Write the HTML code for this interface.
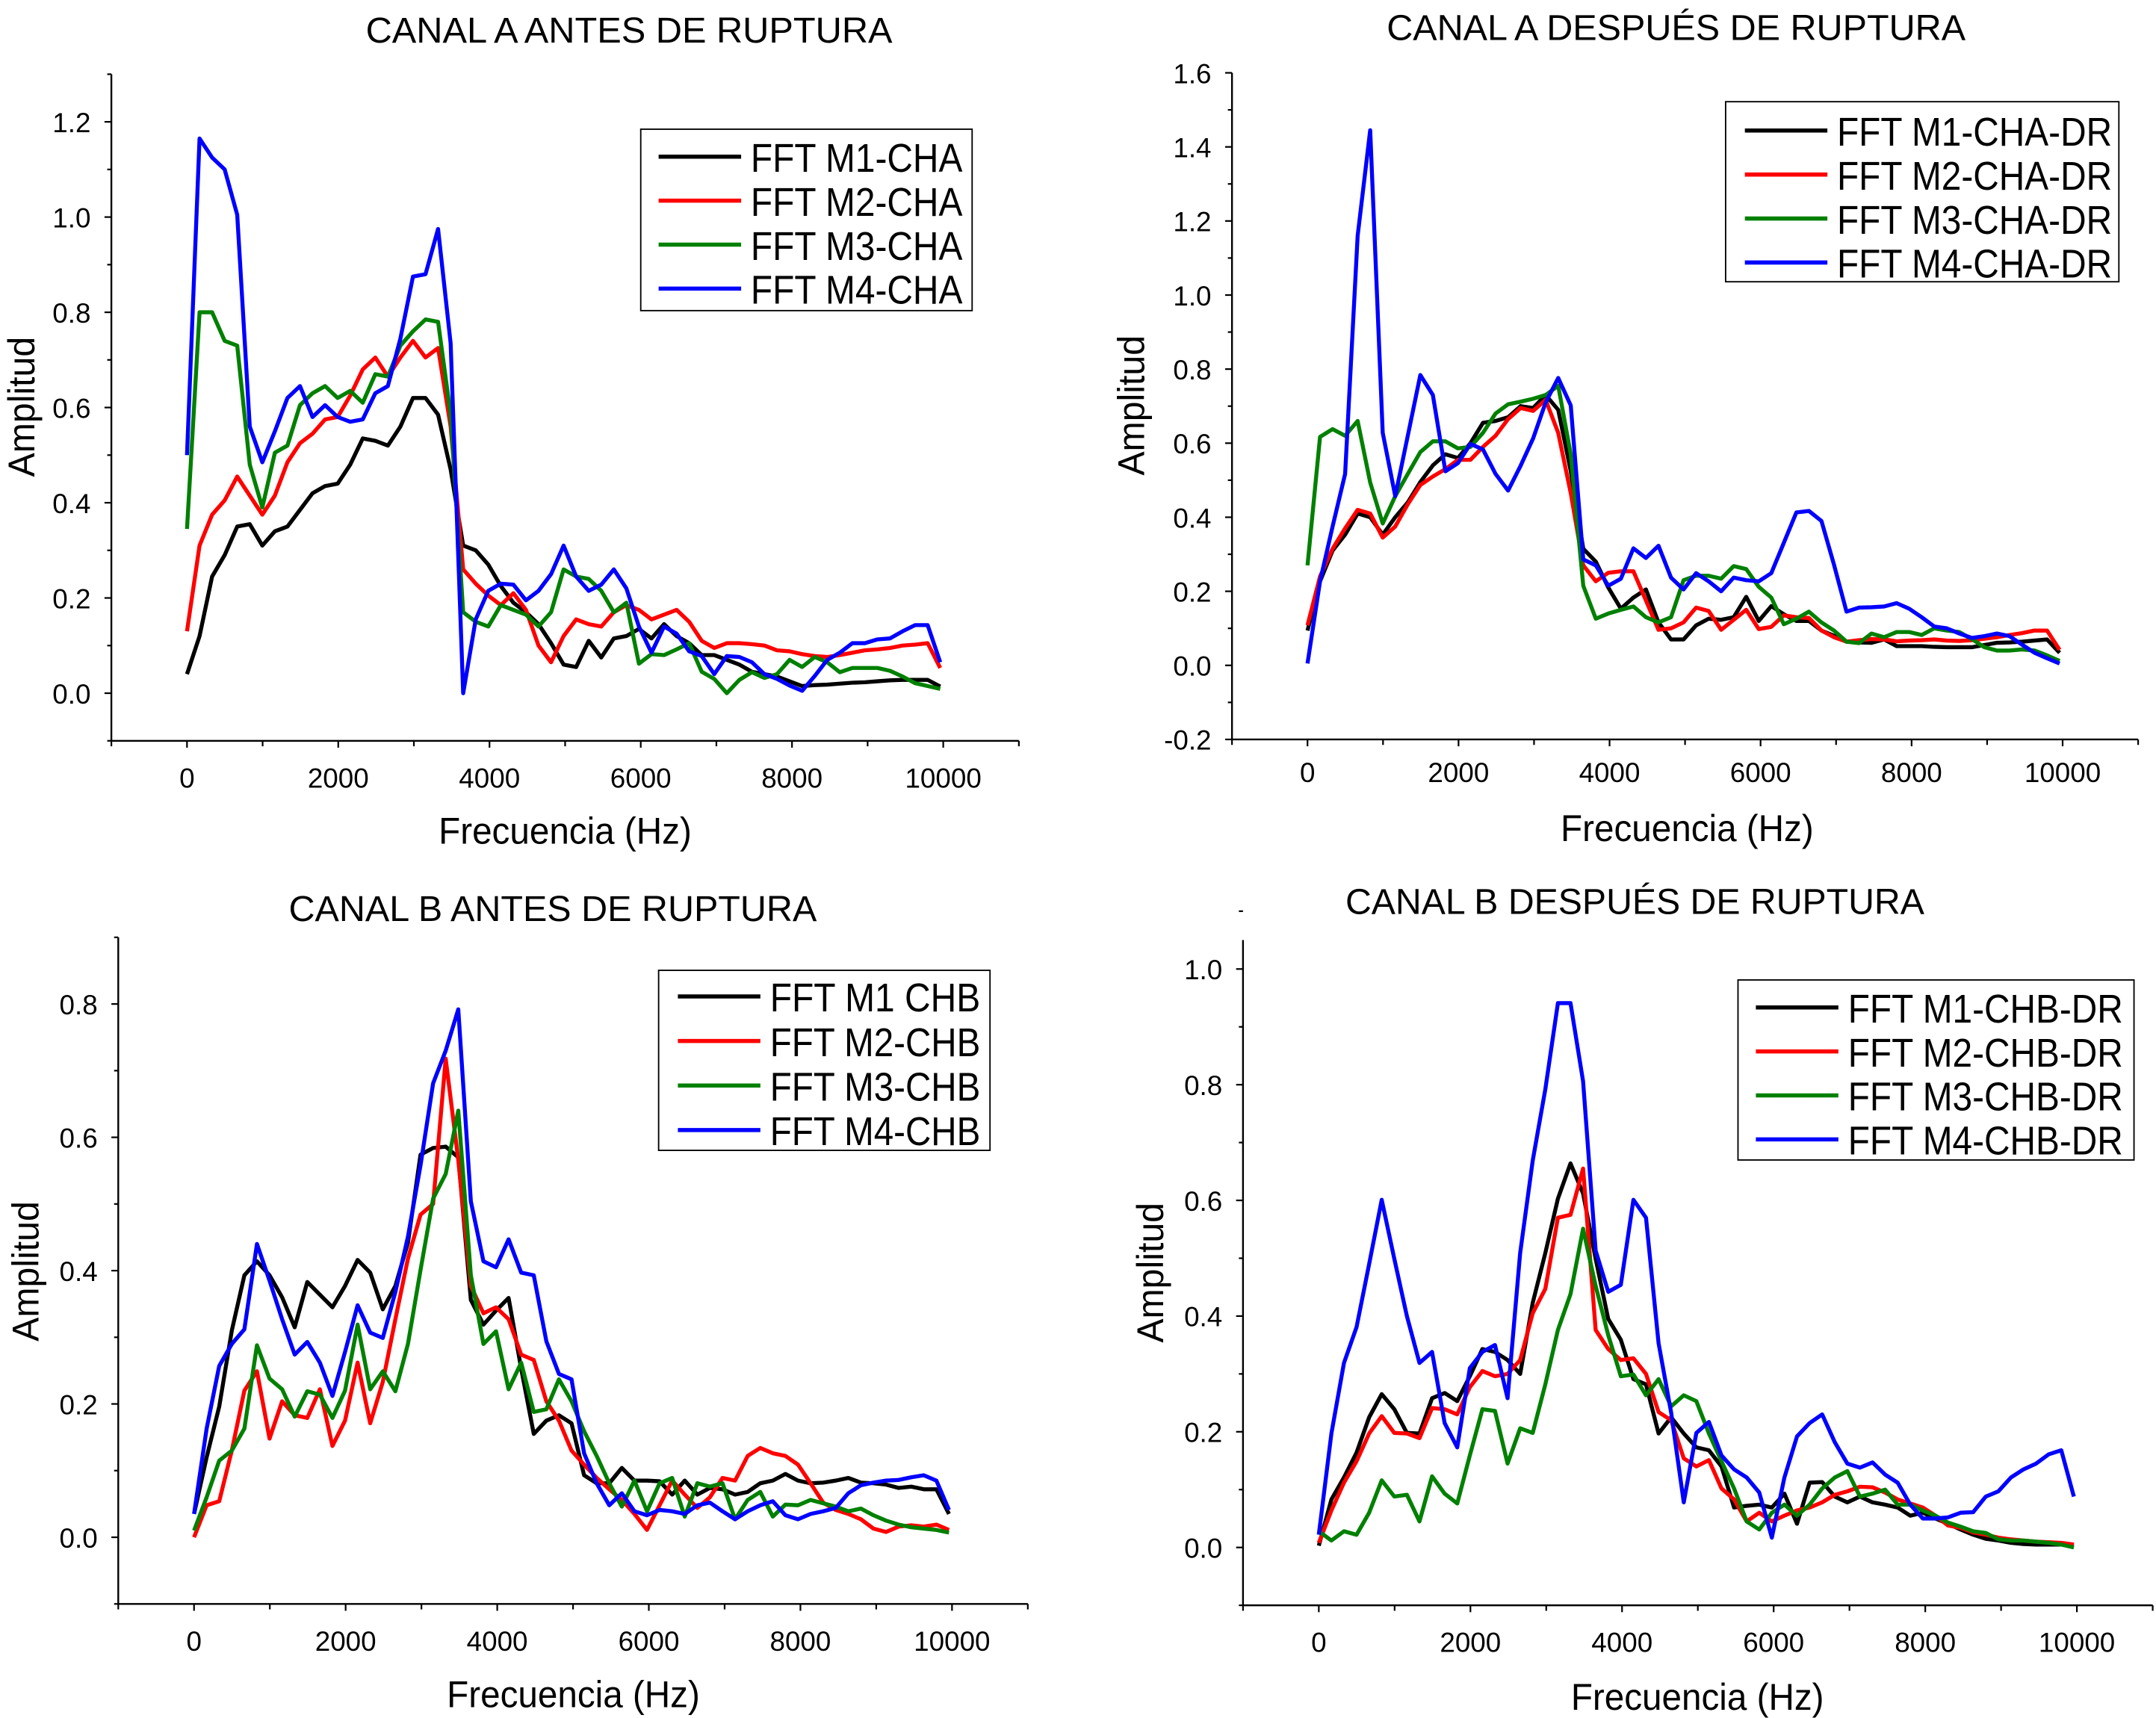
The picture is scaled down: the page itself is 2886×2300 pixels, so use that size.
<!DOCTYPE html>
<html><head><meta charset="utf-8"><style>
html,body{margin:0;padding:0;background:#fff;}
svg{display:block;}
text{font-family:"Liberation Sans",Arial,sans-serif;fill:#000;}
</style></head><body>
<svg id="fig" xmlns="http://www.w3.org/2000/svg" width="2886" height="2300" viewBox="0 0 1568 1250" preserveAspectRatio="none"></svg>
<script>
// ---------- data ----------
const freqs = [0,166,332,498,664,830,996,1162,1328,1494,1660,1826,1992,2158,2324,2490,2656,2822,2988,3154,3320,3486,3652,3818,3984,4150,4316,4482,4648,4814,4980,5146,5312,5478,5644,5810,5976,6142,6308,6474,6640,6806,6972,7138,7304,7470,7636,7802,7968,8134,8300,8466,8632,8798,8964,9130,9296,9462,9628,9794,9960];

const chaM1 = [0.04,0.12,0.245,0.29,0.35,0.355,0.31,0.34,0.35,0.385,0.42,0.435,0.44,0.48,0.535,0.53,0.52,0.56,0.62,0.62,0.585,0.47,0.31,0.30,0.27,0.225,0.19,0.17,0.145,0.105,0.06,0.055,0.11,0.075,0.115,0.12,0.135,0.115,0.145,0.12,0.105,0.08,0.08,0.07,0.06,0.045,0.04,0.035,0.025,0.015,0.017,0.018,0.02,0.022,0.023,0.025,0.027,0.028,0.028,0.028,0.014];
const chaM2 = [0.13,0.31,0.375,0.405,0.455,0.415,0.375,0.415,0.485,0.525,0.545,0.575,0.58,0.625,0.68,0.705,0.665,0.705,0.74,0.705,0.725,0.56,0.26,0.23,0.205,0.185,0.21,0.175,0.10,0.065,0.12,0.155,0.145,0.14,0.17,0.185,0.175,0.155,0.165,0.175,0.15,0.11,0.095,0.105,0.105,0.103,0.10,0.09,0.088,0.082,0.078,0.076,0.08,0.085,0.09,0.092,0.095,0.10,0.102,0.105,0.053];
const chaM3 = [0.345,0.80,0.80,0.74,0.73,0.48,0.39,0.505,0.52,0.605,0.63,0.645,0.62,0.635,0.61,0.67,0.665,0.73,0.76,0.785,0.78,0.585,0.17,0.15,0.14,0.185,0.175,0.165,0.14,0.17,0.26,0.245,0.24,0.215,0.17,0.19,0.062,0.082,0.08,0.092,0.105,0.045,0.03,0.0,0.028,0.044,0.032,0.04,0.07,0.055,0.076,0.065,0.044,0.053,0.053,0.053,0.047,0.035,0.021,0.015,0.009];
const chaM4 = [0.50,1.165,1.125,1.10,1.005,0.56,0.485,0.55,0.62,0.645,0.58,0.605,0.58,0.57,0.575,0.63,0.645,0.745,0.875,0.88,0.975,0.735,0.0,0.155,0.215,0.23,0.228,0.195,0.215,0.25,0.31,0.245,0.215,0.228,0.26,0.22,0.14,0.085,0.14,0.125,0.088,0.078,0.04,0.078,0.076,0.065,0.04,0.03,0.016,0.005,0.036,0.07,0.085,0.105,0.105,0.113,0.115,0.13,0.143,0.143,0.065];

const chadrM1 = [0.094,0.227,0.31,0.353,0.41,0.40,0.353,0.40,0.44,0.495,0.54,0.57,0.56,0.60,0.655,0.66,0.67,0.70,0.695,0.73,0.69,0.525,0.315,0.28,0.21,0.153,0.183,0.205,0.116,0.07,0.07,0.108,0.126,0.123,0.13,0.185,0.12,0.16,0.138,0.12,0.12,0.094,0.08,0.064,0.062,0.061,0.07,0.052,0.052,0.052,0.05,0.049,0.049,0.049,0.055,0.061,0.062,0.064,0.067,0.07,0.034];
const chadrM2 = [0.108,0.24,0.315,0.37,0.42,0.41,0.345,0.375,0.435,0.487,0.51,0.53,0.555,0.555,0.59,0.62,0.665,0.695,0.687,0.717,0.628,0.465,0.27,0.227,0.25,0.254,0.254,0.175,0.096,0.10,0.116,0.156,0.147,0.096,0.123,0.15,0.098,0.104,0.135,0.13,0.128,0.094,0.076,0.064,0.068,0.071,0.07,0.065,0.067,0.068,0.07,0.067,0.066,0.068,0.072,0.076,0.082,0.087,0.094,0.094,0.042];
const chadrM3 = [0.27,0.617,0.638,0.62,0.66,0.494,0.383,0.457,0.517,0.576,0.605,0.605,0.586,0.59,0.628,0.68,0.705,0.712,0.72,0.73,0.755,0.57,0.215,0.126,0.14,0.15,0.159,0.13,0.116,0.13,0.23,0.242,0.242,0.234,0.268,0.26,0.212,0.183,0.111,0.126,0.145,0.116,0.094,0.064,0.06,0.086,0.076,0.09,0.09,0.082,0.1,0.094,0.09,0.071,0.049,0.04,0.04,0.043,0.04,0.027,0.012];
const chadrM4 = [0.005,0.227,0.375,0.517,1.16,1.445,0.628,0.457,0.62,0.784,0.73,0.524,0.546,0.598,0.583,0.517,0.472,0.539,0.613,0.71,0.776,0.702,0.286,0.27,0.215,0.234,0.316,0.29,0.323,0.237,0.205,0.249,0.227,0.2,0.237,0.23,0.227,0.249,0.331,0.413,0.417,0.39,0.272,0.145,0.156,0.157,0.159,0.168,0.153,0.13,0.105,0.1,0.086,0.074,0.079,0.086,0.079,0.056,0.034,0.019,0.005];

const chbM1 = [0.035,0.12,0.196,0.31,0.393,0.414,0.393,0.36,0.315,0.383,0.364,0.345,0.377,0.416,0.397,0.342,0.377,0.442,0.574,0.584,0.586,0.57,0.356,0.319,0.34,0.359,0.253,0.155,0.175,0.183,0.171,0.093,0.081,0.081,0.104,0.085,0.085,0.084,0.064,0.085,0.064,0.074,0.072,0.064,0.068,0.081,0.085,0.095,0.085,0.081,0.082,0.085,0.089,0.082,0.081,0.079,0.074,0.076,0.072,0.072,0.035];
const chbM2 = [0,0.048,0.054,0.13,0.22,0.249,0.148,0.204,0.183,0.179,0.222,0.137,0.175,0.262,0.171,0.233,0.327,0.418,0.484,0.5,0.718,0.566,0.377,0.336,0.345,0.327,0.274,0.266,0.204,0.175,0.13,0.109,0.089,0.072,0.056,0.035,0.011,0.048,0.085,0.064,0.044,0.06,0.089,0.085,0.122,0.134,0.126,0.122,0.109,0.081,0.052,0.041,0.035,0.027,0.013,0.008,0.016,0.018,0.016,0.019,0.011];
const chbM3 = [0.01,0.06,0.115,0.13,0.163,0.288,0.238,0.222,0.181,0.219,0.214,0.179,0.22,0.319,0.222,0.249,0.219,0.29,0.401,0.508,0.545,0.64,0.393,0.29,0.309,0.222,0.262,0.188,0.192,0.237,0.204,0.159,0.122,0.081,0.046,0.085,0.039,0.081,0.089,0.031,0.081,0.076,0.081,0.027,0.056,0.068,0.031,0.049,0.048,0.056,0.051,0.046,0.039,0.043,0.033,0.025,0.019,0.015,0.013,0.011,0.007];
const chbM4 = [0.035,0.163,0.257,0.29,0.312,0.44,0.385,0.327,0.274,0.293,0.262,0.212,0.278,0.348,0.307,0.299,0.368,0.451,0.558,0.681,0.73,0.792,0.504,0.414,0.405,0.447,0.397,0.393,0.294,0.245,0.237,0.126,0.081,0.048,0.066,0.039,0.033,0.041,0.039,0.035,0.048,0.052,0.039,0.027,0.039,0.048,0.054,0.033,0.027,0.035,0.039,0.044,0.066,0.078,0.082,0.085,0.086,0.09,0.093,0.085,0.041];

const chbdrM1 = [0.003,0.083,0.121,0.164,0.225,0.265,0.239,0.198,0.197,0.258,0.267,0.253,0.296,0.343,0.338,0.324,0.3,0.423,0.509,0.603,0.664,0.612,0.499,0.395,0.359,0.291,0.282,0.197,0.225,0.197,0.173,0.168,0.14,0.069,0.072,0.074,0.069,0.093,0.041,0.112,0.113,0.088,0.078,0.088,0.078,0.074,0.069,0.055,0.06,0.05,0.041,0.031,0.022,0.015,0.012,0.008,0.006,0.005,0.005,0.005,0.003];
const chbdrM2 = [0.008,0.064,0.112,0.149,0.197,0.227,0.198,0.197,0.189,0.241,0.239,0.23,0.277,0.305,0.296,0.3,0.324,0.405,0.447,0.57,0.575,0.655,0.376,0.343,0.324,0.327,0.3,0.234,0.22,0.154,0.14,0.151,0.102,0.083,0.045,0.06,0.045,0.055,0.064,0.069,0.078,0.091,0.097,0.105,0.104,0.095,0.083,0.076,0.069,0.055,0.038,0.034,0.026,0.022,0.017,0.014,0.012,0.01,0.009,0.008,0.005];
const chbdrM3 = [0.028,0.012,0.028,0.022,0.06,0.116,0.088,0.091,0.045,0.123,0.093,0.076,0.159,0.239,0.236,0.145,0.206,0.198,0.282,0.376,0.438,0.551,0.452,0.367,0.296,0.299,0.263,0.291,0.244,0.263,0.253,0.197,0.149,0.102,0.045,0.031,0.06,0.074,0.055,0.074,0.102,0.121,0.132,0.088,0.093,0.1,0.074,0.074,0.064,0.055,0.043,0.036,0.028,0.025,0.014,0.012,0.012,0.01,0.008,0.005,0.0];
const chbdrM4 = [0.022,0.197,0.319,0.381,0.49,0.601,0.499,0.4,0.319,0.338,0.215,0.173,0.31,0.338,0.35,0.258,0.509,0.669,0.792,0.941,0.941,0.806,0.513,0.442,0.454,0.601,0.57,0.353,0.233,0.078,0.198,0.217,0.159,0.135,0.121,0.095,0.017,0.121,0.192,0.215,0.23,0.182,0.145,0.138,0.147,0.126,0.112,0.074,0.05,0.05,0.052,0.06,0.061,0.088,0.097,0.121,0.135,0.145,0.161,0.168,0.088];

const xTickLabels = [0,2000,4000,6000,8000,10000];
const yTicksA = [0.0,0.2,0.4,0.6,0.8,1.0,1.2];
const yTicksADR = [-0.2,0.0,0.2,0.4,0.6,0.8,1.0,1.2,1.4,1.6];
const yTicksB = [0.0,0.2,0.4,0.6,0.8];
const yTicksBDR = [0.0,0.2,0.4,0.6,0.8,1.0];

const legendA = ['FFT M1-CHA','FFT M2-CHA','FFT M3-CHA','FFT M4-CHA'];
const legendADR = ['FFT M1-CHA-DR','FFT M2-CHA-DR','FFT M3-CHA-DR','FFT M4-CHA-DR'];
const legendB = ['FFT M1 CHB','FFT M2-CHB','FFT M3-CHB','FFT M4-CHB'];
const legendBDR = ['FFT M1-CHB-DR','FFT M2-CHB-DR','FFT M3-CHB-DR','FFT M4-CHB-DR'];

const colors = ['#000000','#ff0000','#008000','#0000ff'];
const NS = 'http://www.w3.org/2000/svg';
const fig = document.getElementById('fig');

function el(tag, attrs, parent){
  const e = document.createElementNS(NS, tag);
  for (const k in attrs) e.setAttribute(k, attrs[k]);
  parent.appendChild(e);
  return e;
}

function chart(c){
  const g = el('g', {}, fig);
  
  
  const sx = v => c.left + (v - c.xmin) / (c.xmax - c.xmin) * (c.right - c.left);
  const sy = v => c.bottom - (v - c.ymin) / (c.ymax - c.ymin) * (c.bottom - c.top);

  const t = el('text', {x:c.titleX, y:c.titleY, 'text-anchor':'middle', 'font-size':26, textLength:c.titleW, lengthAdjust:'spacingAndGlyphs'}, g);
  t.textContent = c.title;
  
  

  const ya = el('line', {x1:c.left, y1:c.top, x2:c.left, y2:c.bottom, stroke:'#000', 'stroke-width':1.3}, g);
  
  
  const xa = el('line', {x1:c.left, y1:c.bottom, x2:c.right, y2:c.bottom, stroke:'#000', 'stroke-width':1.3}, g);
  
  

  for (let v = c.xmin; v <= c.xmax; v += 1000){
    const major = (v % 2000 === 0);
    const tk = el('line', {x1:sx(v), x2:sx(v), y1:c.bottom, y2:c.bottom + (major ? 5 : 4), stroke:'#000', 'stroke-width':1.2}, g);
    
    
  }
  xTickLabels.forEach(v => {
    const tl = el('text', {x:sx(v), y:c.xLabY, 'text-anchor':'middle', 'font-size':20}, g);
    tl.textContent = String(v);
    
    
  });
  for (let k = Math.round(c.ymin * 10); k <= Math.round(c.ymax * 10); k++){
    const v = k / 10;
    const major = (k % 2 === 0);
    const tk = el('line', {x1:c.left - (major ? 5 : 3), x2:c.left, y1:sy(v), y2:sy(v), stroke:'#000', 'stroke-width':1.2}, g);
    
    
  }
  c.yTicks.forEach(v => {
    const tl = el('text', {x:c.left - 15, y:sy(v) + 7.5, 'text-anchor':'end', 'font-size':20}, g);
    tl.textContent = v.toFixed(1);
    
    
  });

  const xt = el('text', {x:c.xTitleX, y:c.xTitleY, 'text-anchor':'middle', 'font-size':27, textLength:184, lengthAdjust:'spacingAndGlyphs'}, g);
  xt.textContent = 'Frecuencia (Hz)';
  
  
  const yt = el('text', {x:0, y:0, 'text-anchor':'middle', 'font-size':27, textLength:102, lengthAdjust:'spacingAndGlyphs', transform:'translate(' + c.yTitleX + ',' + c.yTitleY + ') rotate(-90)'}, g);
  yt.textContent = 'Amplitud';
  
  

  c.series.forEach((s, i) => {
    const d = s.map((v, j) => (j ? 'L' : 'M') + sx(freqs[j]).toFixed(2) + ',' + sy(v).toFixed(2)).join(' ');
    const p = el('path', {d:d, fill:'none', stroke:colors[i], 'stroke-width':2.9, 'stroke-linejoin':'round'}, g);
    
    
  });

  const lg = el('g', {}, g);
  
  
  const box = el('rect', {x:c.lgX, y:c.lgY, width:c.lgW, height:c.lgH, fill:'#fff', stroke:'#000', 'stroke-width':1}, lg);
  
  
  c.legend.forEach((name, i) => {
    const ry = c.lgRow0 + i * c.lgStep;
    const ln = el('line', {x1:c.lgLine0, x2:c.lgLine0 + 60, y1:ry, y2:ry, stroke:colors[i], 'stroke-width':3}, lg);
    
    
    const tx = el('text', {x:c.lgLine0 + 67, y:ry + 11, 'font-size':29, textLength:c.lgTextW, lengthAdjust:'spacingAndGlyphs'}, lg);
    tx.textContent = name;
    
    
  });
}

chart({id:'canal-a-antes', title:'CANAL A ANTES DE RUPTURA', titleX:457.5, titleY:31, titleW:383,
  left:81, right:741, top:54, bottom:539, xmin:-1000, xmax:11000, ymin:-0.1, ymax:1.3,
  yTicks:yTicksA, xLabY:573, xTitleX:411, xTitleY:614, yTitleX:25, yTitleY:296,
  series:[chaM1,chaM2,chaM3,chaM4], legend:legendA,
  lgX:466, lgY:94, lgW:241, lgH:132, lgRow0:114, lgStep:32, lgLine0:479, lgTextW:154});

chart({id:'canal-a-despues', title:'CANAL A DESPUÉS DE RUPTURA', titleX:1219, titleY:29, titleW:421,
  left:896, right:1555, top:53, bottom:538, xmin:-1000, xmax:11000, ymin:-0.2, ymax:1.6,
  yTicks:yTicksADR, xLabY:569, xTitleX:1227, xTitleY:612, yTitleX:832, yTitleY:295,
  series:[chadrM1,chadrM2,chadrM3,chadrM4], legend:legendADR,
  lgX:1255, lgY:74, lgW:286, lgH:131, lgRow0:95, lgStep:32, lgLine0:1269, lgTextW:200});

chart({id:'canal-b-antes', title:'CANAL B ANTES DE RUPTURA', titleX:402, titleY:670, titleW:384,
  left:86, right:747.5, top:682, bottom:1167, xmin:-1000, xmax:11000, ymin:-0.1, ymax:0.9,
  yTicks:yTicksB, xLabY:1201, xTitleX:417, xTitleY:1242, yTitleX:28, yTitleY:925,
  series:[chbM1,chbM2,chbM3,chbM4], legend:legendB,
  lgX:479, lgY:706, lgW:241, lgH:131, lgRow0:725, lgStep:32.4, lgLine0:493, lgTextW:153});

chart({id:'canal-b-despues', title:'CANAL B DESPUÉS DE RUPTURA', titleX:1189, titleY:665, titleW:421,
  left:904, right:1565.6, top:684, bottom:1168, xmin:-1000, xmax:11000, ymin:-0.1, ymax:1.05,
  yTicks:yTicksBDR, xLabY:1202, xTitleX:1234.5, xTitleY:1244, yTitleX:846, yTitleY:926,
  series:[chbdrM1,chbdrM2,chbdrM3,chbdrM4], legend:legendBDR,
  lgX:1264, lgY:713, lgW:288, lgH:131, lgRow0:733, lgStep:32, lgLine0:1277, lgTextW:200});
</script>
</body></html>
